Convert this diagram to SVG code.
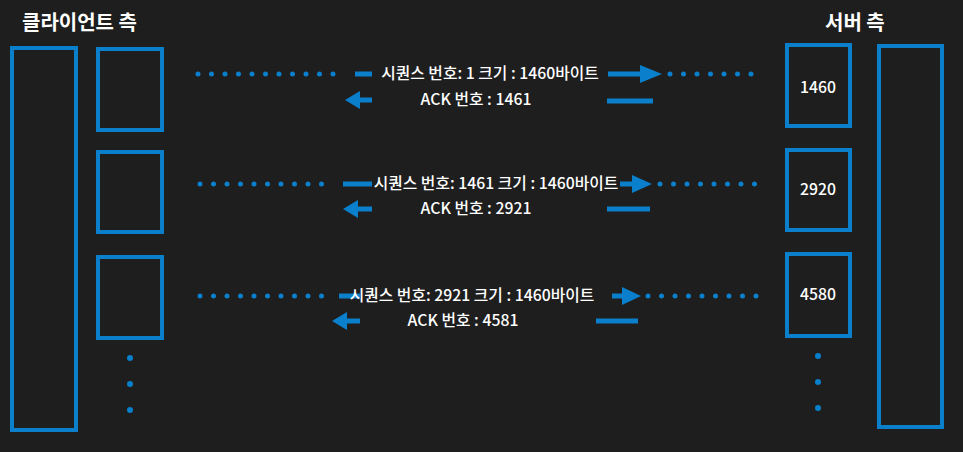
<svg xmlns="http://www.w3.org/2000/svg" width="963" height="452" viewBox="0 0 963 452">
<defs><style>
.b{fill:none;stroke:#0a7fcc;stroke-width:4}
.t{font-family:"Noto Sans CJK KR","Noto Sans",sans-serif;fill:#fff;font-size:15.8px;font-weight:500;text-anchor:middle}
.h{font-family:"Noto Sans CJK KR",sans-serif;fill:#fff;font-size:20px;font-weight:bold}
.d{stroke:#0a7fcc;stroke-width:5;stroke-linecap:round;stroke-dasharray:0 13.5;fill:none}
.l{stroke:#0a7fcc;stroke-width:5;fill:none}
.a{fill:#0a7fcc}
</style></defs>
<rect width="963" height="452" fill="#1e1e1e"/>
<text class="h" x="22" y="30">클라이언트 측</text>
<text class="h" x="825" y="30">서버 측</text>
<g id="client"><rect class="b" x="12" y="48" width="64" height="382"/></g>
<g id="c1"><rect class="b" x="98" y="49" width="64" height="81"/></g>
<g id="c2"><rect class="b" x="98" y="152" width="64" height="80"/></g>
<g id="c3"><rect class="b" x="98" y="257" width="64" height="81"/></g>
<g id="server"><rect class="b" x="879" y="46" width="63" height="381"/></g>
<g id="s1"><rect class="b" x="787" y="45" width="63" height="81"/><text class="t" x="818" y="93">1460</text></g>
<g id="s2"><rect class="b" x="787" y="150" width="63" height="80"/><text class="t" x="818" y="195">2920</text></g>
<g id="s3"><rect class="b" x="787" y="254" width="63" height="82"/><text class="t" x="818" y="300">4580</text></g>
<g id="connectors">
<path class="d" d="M198 74H345M670 74H762"/>
<path class="l" d="M355 74H372M608 74H642"/><path class="a" d="M640 65L662 74L640 83Z"/>
<text class="t" x="490" y="79">시퀀스 번호: 1 크기 : 1460바이트</text>
<path class="a" d="M345 100L360 91V109Z"/><path class="l" d="M358 100H372M607 101H653"/>
<text class="t" x="476" y="105">ACK 번호 : 1461</text>

<path class="d" d="M200 184H330M660 184H762"/>
<path class="l" d="M343 184H372M620 184H634"/><path class="a" d="M632 175L652 184L632 193Z"/>
<text class="t" x="496" y="189">시퀀스 번호: 1461 크기 : 1460바이트</text>
<path class="a" d="M343 209L358 200V218Z"/><path class="l" d="M356 209H372M607 209H650"/>
<text class="t" x="476" y="214">ACK 번호 : 2921</text>

<path class="d" d="M200 296H330M648 296H762"/>
<path class="l" d="M339 296H360M612 296H624"/><path class="a" d="M622 287L641 296L622 305Z"/>
<text class="t" x="472" y="301">시퀀스 번호: 2921 크기 : 1460바이트</text>
<path class="a" d="M332 321L347 312V330Z"/><path class="l" d="M345 321H360M596 321H638"/>
<text class="t" x="463" y="326">ACK 번호 : 4581</text>
<g class="a"><circle cx="130" cy="358" r="3"/><circle cx="130" cy="384" r="3"/><circle cx="130" cy="410" r="3"/>
<circle cx="818" cy="356" r="3"/><circle cx="818" cy="382" r="3"/><circle cx="818" cy="408" r="3"/></g>
</g>
</svg>
